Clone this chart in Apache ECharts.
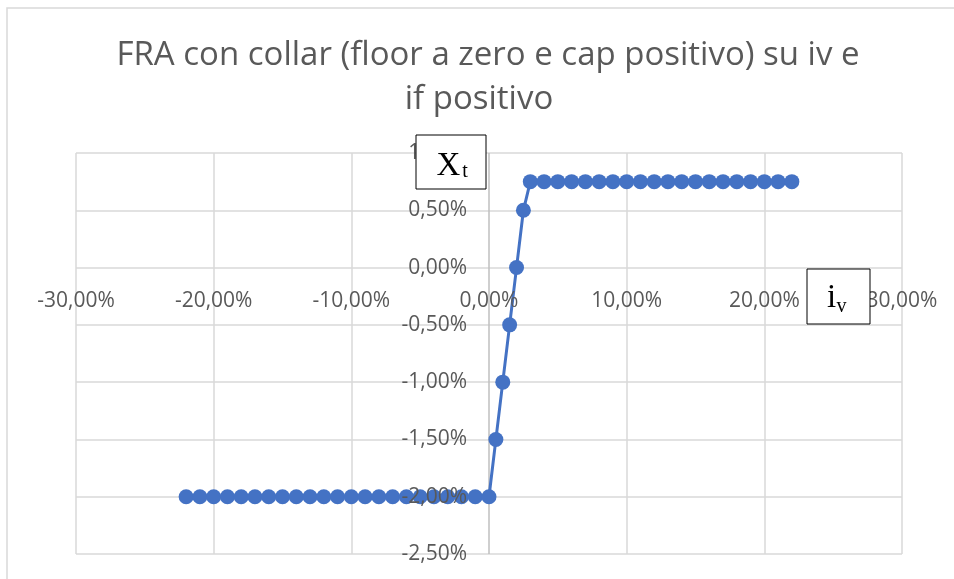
<!DOCTYPE html>
<html>
<head>
<meta charset="utf-8">
<script src="https://cdn.jsdelivr.net/npm/echarts@6/dist/echarts.min.js"></script>
<style>
  html, body { margin: 0; padding: 0; background: #fff; }
  #chart { width: 954px; height: 579px; }
</style>
</head>
<body>
<div id="chart"></div>
<script>
// Variable rate i_v (%) and FRA-with-collar payoff X_t (%)
const ivValues = [
  -22, -21, -20, -19, -18, -17, -16, -15, -14, -13, -12, -11,
  -10, -9, -8, -7, -6, -5, -4, -3, -2, -1, 0,
  0.5, 1, 1.5, 2, 2.5,
  3, 4, 5, 6, 7, 8, 9, 10, 11, 12, 13, 14, 15, 16, 17, 18, 19, 20, 21, 22
];
const xtValues = [
  -2, -2, -2, -2, -2, -2, -2, -2, -2, -2, -2, -2,
  -2, -2, -2, -2, -2, -2, -2, -2, -2, -2, -2,
  -1.5, -1, -0.5, 0, 0.5,
  0.75, 0.75, 0.75, 0.75, 0.75, 0.75, 0.75, 0.75, 0.75, 0.75,
  0.75, 0.75, 0.75, 0.75, 0.75, 0.75, 0.75, 0.75, 0.75, 0.75
];

const titleLine1 = 'FRA con collar (floor a zero e cap positivo) su iv e';
const titleLine2 = 'if positivo';

const xAxisRange = { min: -30, max: 30, interval: 10 };
const yAxisRange = { min: -2.5, max: 1, interval: 0.5 };

const points = ivValues.map((v, i) => [v, xtValues[i]]);

const pct = v => {
  const s = Math.abs(v) < 1e-9 ? '0,00' : v.toFixed(2).replace('.', ',');
  return s + '%';
};

// Gridline colours: the line through zero on the x scale is the value axis, a bit darker
const gridGray = '#D9D9D9';
const axisGray = '#BFBFBF';
const xSplitColors = [];
for (let v = xAxisRange.min; v <= xAxisRange.max + 1e-9; v += xAxisRange.interval) {
  xSplitColors.push(Math.abs(v) < 1e-9 ? axisGray : gridGray);
}

const labelFont = { color: '#595959', fontFamily: 'Open Sans', fontSize: 21 };
const serif = 'Liberation Serif';

const chart = echarts.init(document.getElementById('chart'), null, { renderer: 'canvas' });

function buildOption(xLabelOffset, yLabelOffset) {
  return {
    backgroundColor: '#ffffff',
    animation: false,
    title: [
      {
        text: titleLine1, left: 483, top: 34, textAlign: 'center',
        textStyle: { color: '#595959', fontFamily: 'Open Sans', fontSize: 33, fontWeight: 'normal' }
      },
      {
        text: titleLine2, left: 474, top: 78, textAlign: 'center',
        textStyle: { color: '#595959', fontFamily: 'Open Sans', fontSize: 33, fontWeight: 'normal' }
      }
    ],
    grid: { left: 76, right: 52, top: 153, bottom: 25, containLabel: false, outerBoundsMode: 'none' },
    xAxis: [
      {
        type: 'value', ...xAxisRange, position: 'bottom', z: 0,
        axisLine: { show: false, onZero: false },
        axisTick: { show: false },
        axisLabel: { show: false },
        splitLine: { show: true, lineStyle: { color: xSplitColors, width: 1.5 } }
      },
      {
        type: 'value', ...xAxisRange, position: 'bottom', offset: xLabelOffset, z: 5,
        axisLine: { show: false, onZero: false },
        axisTick: { show: false },
        splitLine: { show: false },
        axisLabel: { margin: 23, formatter: pct, ...labelFont }
      }
    ],
    yAxis: [
      {
        type: 'value', ...yAxisRange, position: 'left', z: 0,
        axisLine: { show: false, onZero: false },
        axisTick: { show: false },
        axisLabel: { show: false },
        splitLine: { show: true, lineStyle: { color: gridGray, width: 1.5 } }
      },
      {
        type: 'value', ...yAxisRange, position: 'left', offset: yLabelOffset, z: 5,
        axisLine: { show: false, onZero: false },
        axisTick: { show: false },
        splitLine: { show: false },
        axisLabel: { margin: 22, formatter: pct, ...labelFont }
      }
    ],
    series: [
      {
        type: 'line',
        xAxisIndex: 0,
        yAxisIndex: 0,
        data: points,
        symbol: 'circle',
        symbolSize: 15,
        lineStyle: { color: '#4472C4', width: 3 },
        itemStyle: { color: '#4472C4' },
        z: 2
      }
    ],
    graphic: [
      {
        type: 'rect', z: 0, silent: true,
        shape: { x: 7, y: 8, width: 1200, height: 1200 },
        style: { fill: 'none', stroke: '#D9D9D9', lineWidth: 1.5 }
      },
      // Axis caption X_t
      { type: 'rect', z: 100, shape: { x: 416, y: 135, width: 70, height: 54 },
        style: { fill: '#ffffff', stroke: '#000000', lineWidth: 1 } },
      { type: 'text', z: 101, x: 448.5, y: 166,
        style: { text: 'X', font: '33px "' + serif + '"', fill: '#000', align: 'center', verticalAlign: 'middle' } },
      { type: 'text', z: 101, x: 465, y: 172,
        style: { text: 't', font: '20px "' + serif + '"', fill: '#000', align: 'center', verticalAlign: 'middle' } },
      // Axis caption i_v
      { type: 'rect', z: 100, shape: { x: 807, y: 269, width: 63, height: 55 },
        style: { fill: '#ffffff', stroke: '#000000', lineWidth: 1 } },
      { type: 'text', z: 101, x: 831.5, y: 298.5,
        style: { text: 'i', font: '33px "' + serif + '"', fill: '#000', align: 'center', verticalAlign: 'middle' } },
      { type: 'text', z: 101, x: 841.5, y: 306.5,
        style: { text: 'v', font: '20px "' + serif + '"', fill: '#000', align: 'center', verticalAlign: 'middle' } }
    ]
  };
}

// First pass lays out the grid; then the label axes are shifted so they cross at (0, 0)
chart.setOption(buildOption(0, 0));
const origin = chart.convertToPixel({ xAxisIndex: 0, yAxisIndex: 0 }, [0, 0]);
const corner = chart.convertToPixel({ xAxisIndex: 0, yAxisIndex: 0 }, [xAxisRange.min, yAxisRange.min]);
chart.setOption(buildOption(-(corner[1] - origin[1]), -(origin[0] - corner[0])));
</script>
</body>
</html>
